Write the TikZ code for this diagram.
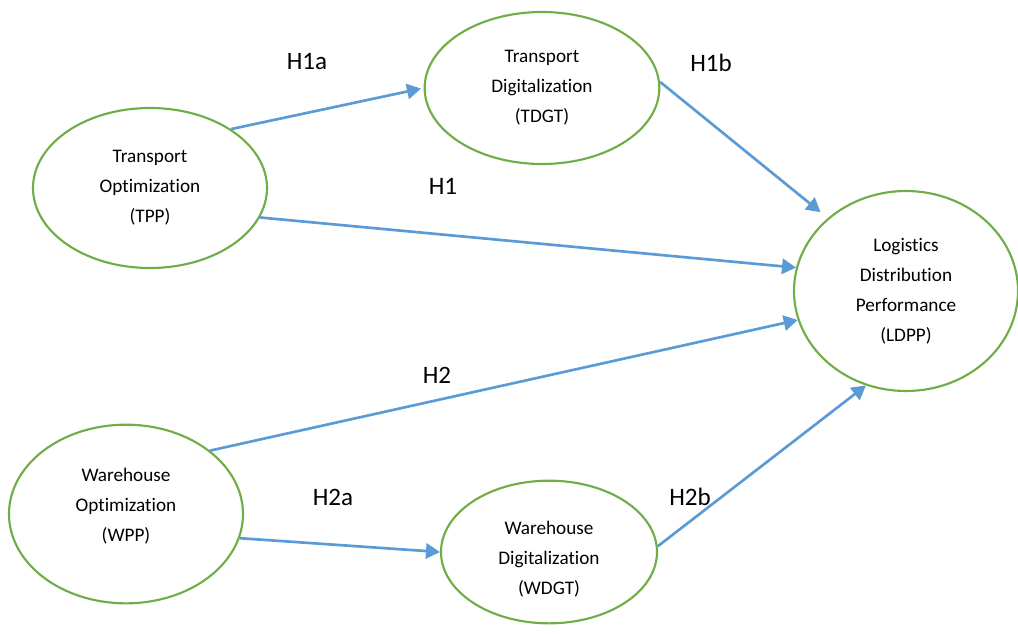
\documentclass[tikz,border=0pt]{standalone}
\usepackage{fontspec}
\setmainfont[Ligatures=NoCommon]{Carlito}
\usetikzlibrary{shapes.geometric,arrows.meta}
\definecolor{ringgreen}{HTML}{70AD47}
\definecolor{linkblue}{HTML}{5B9BD5}
\begin{document}
\begin{tikzpicture}[x=0.75pt,y=-0.75pt,
  construct/.style={ellipse,draw=ringgreen,line width=1.6pt,inner sep=0pt,
    align=center,font=\fontsize{14.4pt}{22.5pt}\selectfont},
  caption/.style={align=center,font=\fontsize{14.4pt}{22.5pt}\selectfont},
  link/.style={draw=linkblue,line width=2pt,-{Triangle[length=10.5pt,width=11.5pt]}},
  hyp/.style={font=\fontsize{18.8pt}{22pt}\selectfont}]
\useasboundingbox (0,0) rectangle (1018,633);

% constructs
\node[construct,minimum width=175.5pt,minimum height=120pt] (tpp) at (150,188)
  {Transport\\Optimization\\(TPP)};
\node[construct,minimum width=176pt,minimum height=114pt] (tdgt) at (542,88)
  {Transport\\Digitalization\\(TDGT)};
\node[construct,minimum width=168pt,minimum height=150pt] (ldpp) at (906,291)
  {Logistics\\Distribution\\Performance\\(LDPP)};
\node[construct,minimum width=175.5pt,minimum height=134pt,
  label={[caption,yshift=6pt]center:Warehouse\\Optimization\\(WPP)}] (wpp) at (126,514) {};
\node[construct,minimum width=162pt,minimum height=107pt,
  label={[caption,yshift=-5pt]center:Warehouse\\Digitalization\\(WDGT)}] (wdgt) at (549,552) {};

% hypothesised paths
\draw[link,shorten >=2pt] (tpp.36) -- (tdgt.west);
\draw[link,shorten >=7pt] (tdgt.3) -- (ldpp.137);
\draw[link] (tpp.-15) -- (ldpp.168);
\draw[link] (wpp.37) -- (ldpp.195);
\draw[link] (wpp.-12) -- (wdgt.west);
\draw[link] (wdgt.3) -- (ldpp.247);

% path labels
\node[hyp] (h1a) at (307,62) {H1a};
\node[hyp] (h1b) at (711,63) {H1b};
\node[hyp] (h1) at (443,186) {H1};
\node[hyp] (h2) at (437,375) {H2};
\node[hyp] (h2a) at (333,497) {H2a};
\node[hyp] (h2b) at (690,497) {H2b};
\end{tikzpicture}
\end{document}
